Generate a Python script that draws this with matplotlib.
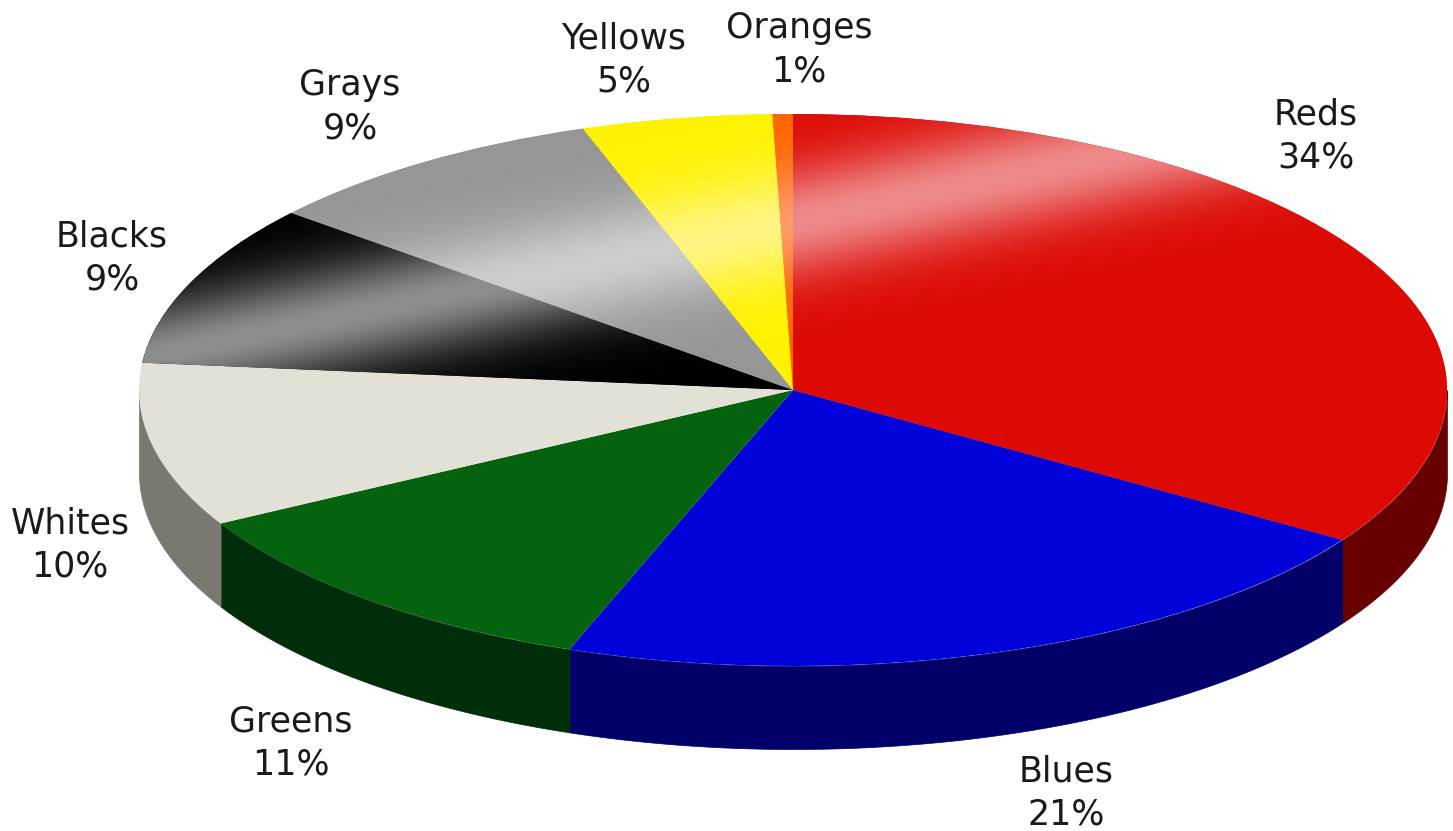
import matplotlib
matplotlib.use("Agg")
import matplotlib.pyplot as plt
import numpy as np

names = ["Reds", "Blues", "Greens", "Whites", "Blacks", "Grays", "Yellows", "Oranges"]
shares = [34.1, 21.4, 11.4, 9.6, 9.5, 8.7, 4.7, 0.5]
printed = ["34%", "21%", "11%", "10%", "9%", "9%", "5%", "1%"]

top_colors = ["#dd0a04", "#0000d8", "#05620f", "#e3e1d5", "#000000", "#969696", "#fff200", "#ff6600"]
side_colors = ["#690000", "#000068", "#002d0a", "#7a7870", "#000000", "#969696", "#fff200", "#ff6600"]
shine_colors = ["#ee8a8a", None, None, None, "#8e8e8e", "#cecece", "#fff580", "#ff9a66"]

# label centres in image pixels
label_x = [1316, 1066, 291, 70, 112, 350, 624, 799]
label_y = [136, 793, 743, 545, 258, 107, 60, 50]

W, H = 1453, 831
cx, cy, rx, ry, depth = 793, 390, 654, 276, 83


def px(x, y):
    return (x - cx) / rx, (cy - y) / ry


fig = plt.figure(figsize=(W / 100, H / 100), dpi=100, facecolor="white")
ax = fig.add_axes([0, 0, 1, 1])

wedges, _ = ax.pie(shares, colors=top_colors, startangle=90, counterclock=False,
                   radius=1, wedgeprops={"linewidth": 0, "zorder": 3})

# side wall, only the part of the rim that faces the viewer
for w, col in zip(wedges, side_colors):
    th = np.radians(np.linspace(w.theta1, w.theta2, 600))
    th = th[np.sin(th) <= 0]
    if len(th) == 0:
        continue
    ax.fill_between(np.cos(th), np.sin(th), np.sin(th) - depth / ry,
                    color=col, linewidth=0.5, zorder=1)

# glossy band across the back of the pie
xx, yy = np.meshgrid(np.arange(W) + 0.5, np.arange(H) + 0.5)
band = np.exp(-((yy - (222 - 0.21 * (xx - 793))) / 55.0) ** 2)[..., None]
x0, y0 = px(0, H)
x1, y1 = px(W, 0)
for w, base, shine in zip(wedges, top_colors, shine_colors):
    if shine is None:
        continue
    rgb = (1 - band) * np.array(matplotlib.colors.to_rgb(base)) + band * np.array(matplotlib.colors.to_rgb(shine))
    im = ax.imshow(rgb, extent=(x0, x1, y0, y1), origin="upper", aspect="auto",
                   interpolation="bilinear", zorder=4)
    im.set_clip_path(w)

for name, pct, lx, ly in zip(names, printed, label_x, label_y):
    tx, ty = px(lx, ly)
    ax.text(tx, ty, name + "\n" + pct, ha="center", va="center", ma="center",
            fontsize=25, color="#1a1a1a", family="DejaVu Sans", linespacing=1.36, zorder=5)

ax.set_aspect("auto")
ax.set_xlim(x0, x1)
ax.set_ylim(y0, y1)
ax.axis("off")

fig.savefig("out.png", dpi=100, facecolor="white")
